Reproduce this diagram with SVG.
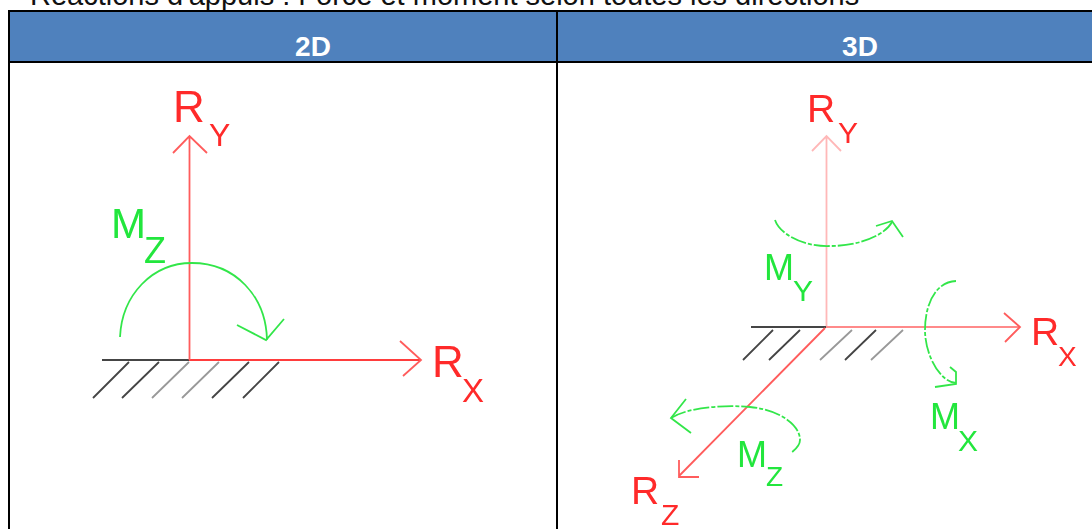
<svg xmlns="http://www.w3.org/2000/svg" width="1092" height="529" viewBox="0 0 1092 529">
<style>
.f{font-family:"Liberation Sans",Arial,sans-serif}
.h{font-size:28px;font-weight:bold;fill:#fff;text-anchor:middle}
.r{fill:#ff2a2a}.g{fill:#22e63c}
.lr{fill:none;stroke:#ff3c3c;stroke-width:2}
.ls{fill:none;stroke:#ff5c5c;stroke-width:1.8}
.ll{fill:none;stroke:#ff8a8a;stroke-width:1.8}
.lp{fill:none;stroke:#ffb8b8;stroke-width:1.8}
.lg{fill:none;stroke:#33e64a;stroke-width:1.8}
.ld{stroke-dasharray:16 2 4 2}
.lk{fill:none;stroke:#444;stroke-width:1.8}
.lh{fill:none;stroke:#999;stroke-width:1.8}
.b{stroke:#000;stroke-width:2;fill:none}
</style>
<defs><filter id="soft" x="-5%" y="-5%" width="110%" height="110%"><feGaussianBlur stdDeviation="0.45"/></filter></defs>
<rect width="1092" height="529" fill="#fff"/>
<text class="f" x="30" y="5" font-size="29" fill="#111">Réactions d'appuis : Force et moment selon toutes les directions</text>
<g id="table">
<rect x="9" y="11" width="1083" height="51" fill="#4f81bd"/>
<path class="b" d="M9 529V11H1092M9 62H1092M557 11V529"/>
<text class="f h" x="313" y="56">2D</text>
<text class="f h" x="860" y="56">3D</text>
</g>
<g id="connectors" filter="url(#soft)">
<g id="d2">
<path class="lk" d="M102 360H189M129 362L93 398M159 362L122 398M279 362L243 398M249 362L212 398"/>
<path class="lh" d="M189 362L152 398M219 362L182 398"/>
<path class="lr" d="M189 360H421"/>
<path class="ls" d="M400 341L421 360L403 376M189.500 360V136M173 153L189.500 136L207 153"/>
<path class="lg" d="M120 337C122 295 152 263 192 263C235 263 266 296 267 340M237 325L266 340L284 319"/>
</g>
<g id="d3">
<path class="lk" d="M773 330L743 360M800 330L769 360M876 330L845 360"/>
<path class="lk" d="M751 327H826"/>
<path class="lh" d="M852 330L820 360M903 330L871 360"/>
<path class="lp" d="M826.500 326V136M812 151L826.500 136L841 151"/>
<path class="ll" d="M826 327H1020"/>
<path class="ls" d="M1004 313L1020 327L1005 342M825 328L679 476M679 460V477H699"/>
<path class="lg ld" d="M775 220C780 235 805 247 830 246C860 246 885 235 892 222"/>
<path class="lg" d="M876 226L892 221L903 237"/>
<path class="lg ld" d="M956 281C935 282 925 305 925 330C925 355 940 382 956 383"/>
<path class="lg" d="M935 387L956 384L956 372L950 367"/>
<path class="lg ld" d="M671 418C690 406 730 405 750 407C780 410 800 425 800 440C800 445 795 450 791 453"/>
<path class="lg" d="M686 399L671 418L691 433"/>
</g>
</g>
<g id="labels" class="f" filter="url(#soft)">
<text class="r" x="173" y="122" font-size="44">R</text><text class="r" x="209" y="146" font-size="32">Y</text>
<text class="r" x="432" y="377" font-size="44">R</text><text class="r" x="462" y="402" font-size="33">X</text>
<text class="g" x="111" y="238" font-size="42">M</text><text class="g" x="144" y="263" font-size="36">Z</text>
<text class="r" x="807" y="122" font-size="39">R</text><text class="r" x="838" y="143" font-size="30">Y</text>
<text class="r" x="1031" y="345" font-size="39">R</text><text class="r" x="1058" y="366" font-size="28">X</text>
<text class="r" x="631" y="504" font-size="39">R</text><text class="r" x="661" y="525" font-size="30">Z</text>
<text class="g" x="764" y="280" font-size="36">M</text><text class="g" x="793" y="301" font-size="30">Y</text>
<text class="g" x="930" y="429" font-size="36">M</text><text class="g" x="958" y="451" font-size="30">X</text>
<text class="g" x="737" y="467" font-size="36">M</text><text class="g" x="766" y="486" font-size="28">Z</text>
</g>
</svg>
